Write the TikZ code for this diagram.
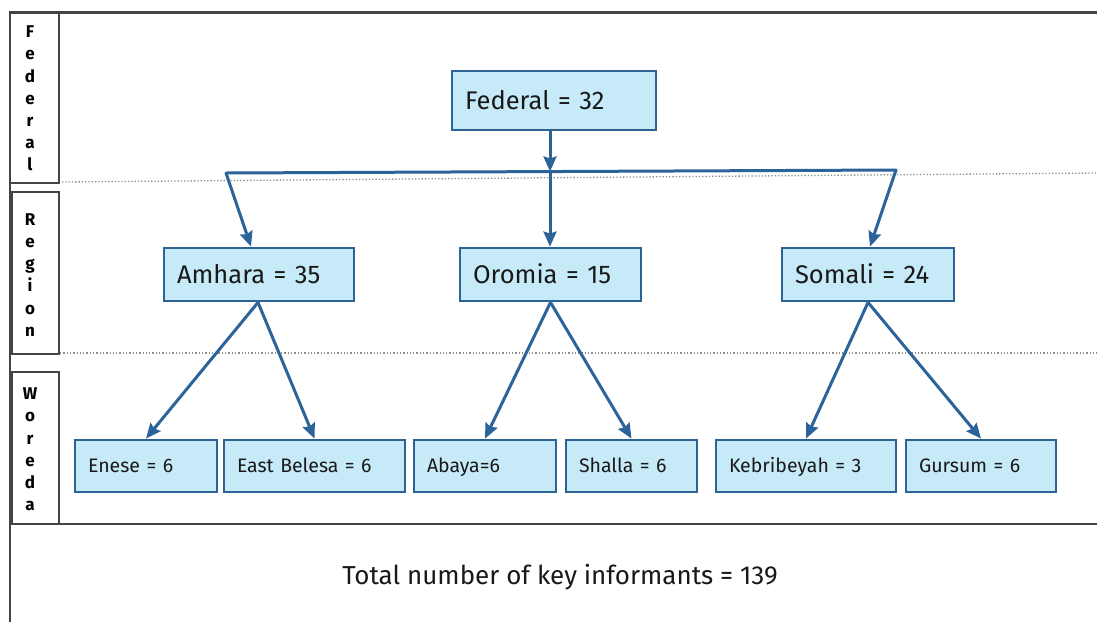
\documentclass[tikz,border=0pt]{standalone}
\usepackage{fontspec}
\setmainfont{Fira Sans}
\usetikzlibrary{arrows.meta,calc}
\definecolor{fillc}{HTML}{C6EAF8}
\definecolor{bordc}{HTML}{2F6394}
\definecolor{arrc}{HTML}{2C6499}
\definecolor{framec}{HTML}{444444}
\tikzset{
  box/.style={draw=bordc, fill=fillc, line width=2.8pt, inner xsep=13pt, inner ysep=0pt, align=left, text=black!90},
  topbox/.style={box, minimum height=#1pt, text height=22.6pt, text depth=5pt, font=\fontsize{25.5}{30}\selectfont},
  wbox/.style={box, minimum height=52pt, text height=17.4pt, text depth=4pt, font=\fontsize{19.5}{23}\selectfont},
  conn/.style={draw=arrc, line width=3pt, -{Stealth[length=15pt,width=13pt,inset=2pt]}},
  frame/.style={draw=framec, line width=2.2pt},
  lbox/.style={draw=framec, line width=1.6pt},
  lab/.style={align=center, inner sep=0pt, text=black, font=\bfseries\fontsize{17}{22.2}\selectfont},
  dots/.style={draw=gray!90, line width=1.3pt, dash pattern=on 1.3pt off 2pt}
}
\begin{document}
\begin{tikzpicture}[x=1pt,y=-1pt]
\useasboundingbox (0,0) rectangle (1097,622);
\fill[white] (0,0) rectangle (1097,622);
% frame
\draw[frame] (1097,12.5) -- (10,12.5) -- (10,622);
\draw[frame] (10,524) -- (1097,524);
\draw[lbox] (10,12.5) rectangle (59,183);
\draw[lbox] (12,192) rectangle (59,354);
\draw[lbox] (12,372) rectangle (59,524);
\node[lab] (lf) at (30,98.5) {F\\e\\d\\e\\r\\a\\l};
\node[lab] (lr) at (30,275) {R\\e\\g\\i\\o\\n};
\node[lab] (lw) at (30,449.5) {W\\o\\r\\e\\d\\a};
% dotted level lines
\coordinate (d1a) at (62,182);
\coordinate (d1b) at (1097,173);
\coordinate (d2a) at (60,353);
\coordinate (d2b) at (1097,353);
\draw[dots] (d1a) -- (d1b);
\draw[dots] (d2a) -- (d2b);
% nodes
\node[topbox=59, text width=178pt] (fed) at (554,100.5) {Federal = 32};
\node[topbox=53, text width=164pt] (amh) at (259,274.5) {Amhara = 35};
\node[topbox=53, text width=155pt] (oro) at (550.5,274.5) {Oromia = 15};
\node[topbox=53, text width=146pt] (som) at (868,274.5) {Somali = 24};
\node[wbox, text width=116pt] (en) at (146,466) {Enese = 6};
\node[wbox, text width=155pt] (eb) at (314.5,466) {East Belesa = 6};
\node[wbox, text width=116pt] (ab) at (485,466) {Abaya=6};
\node[wbox, text width=105pt] (sh) at (631.5,466) {Shalla = 6};
\node[wbox, text width=154pt] (ke) at (806,466) {Kebribeyah = 3};
\node[wbox, text width=124pt] (gu) at (981,466) {Gursum = 6};
% bus
\coordinate (busL) at (226,173);
\coordinate (busR) at (896,170);
\coordinate (busM) at (550,171.5);
\draw[draw=arrc, line width=3pt, line cap=round] (busL) -- (busR);
\draw[conn] (fed.south -| busM) -- (busM);
\draw[conn] (busM) -- (oro.north -| busM);
\draw[conn] (busL) -- ([xshift=-8pt]amh.north);
\draw[conn] (busR) -- ([xshift=2pt]som.north);
% woreda arrows
\draw[conn] ([xshift=-1pt]amh.south) -- (en.north);
\draw[conn] ([xshift=-1pt]amh.south) -- (eb.north);
\draw[conn] (oro.south) -- (ab.north);
\draw[conn] (oro.south) -- (sh.north);
\draw[conn] (som.south) -- (ke.north);
\draw[conn] (som.south) -- (gu.north);
% total
\node[font=\fontsize{26}{30}\selectfont, text=black!90] (tot) at (560,577) {Total number of key informants = 139};
\end{tikzpicture}
\end{document}
